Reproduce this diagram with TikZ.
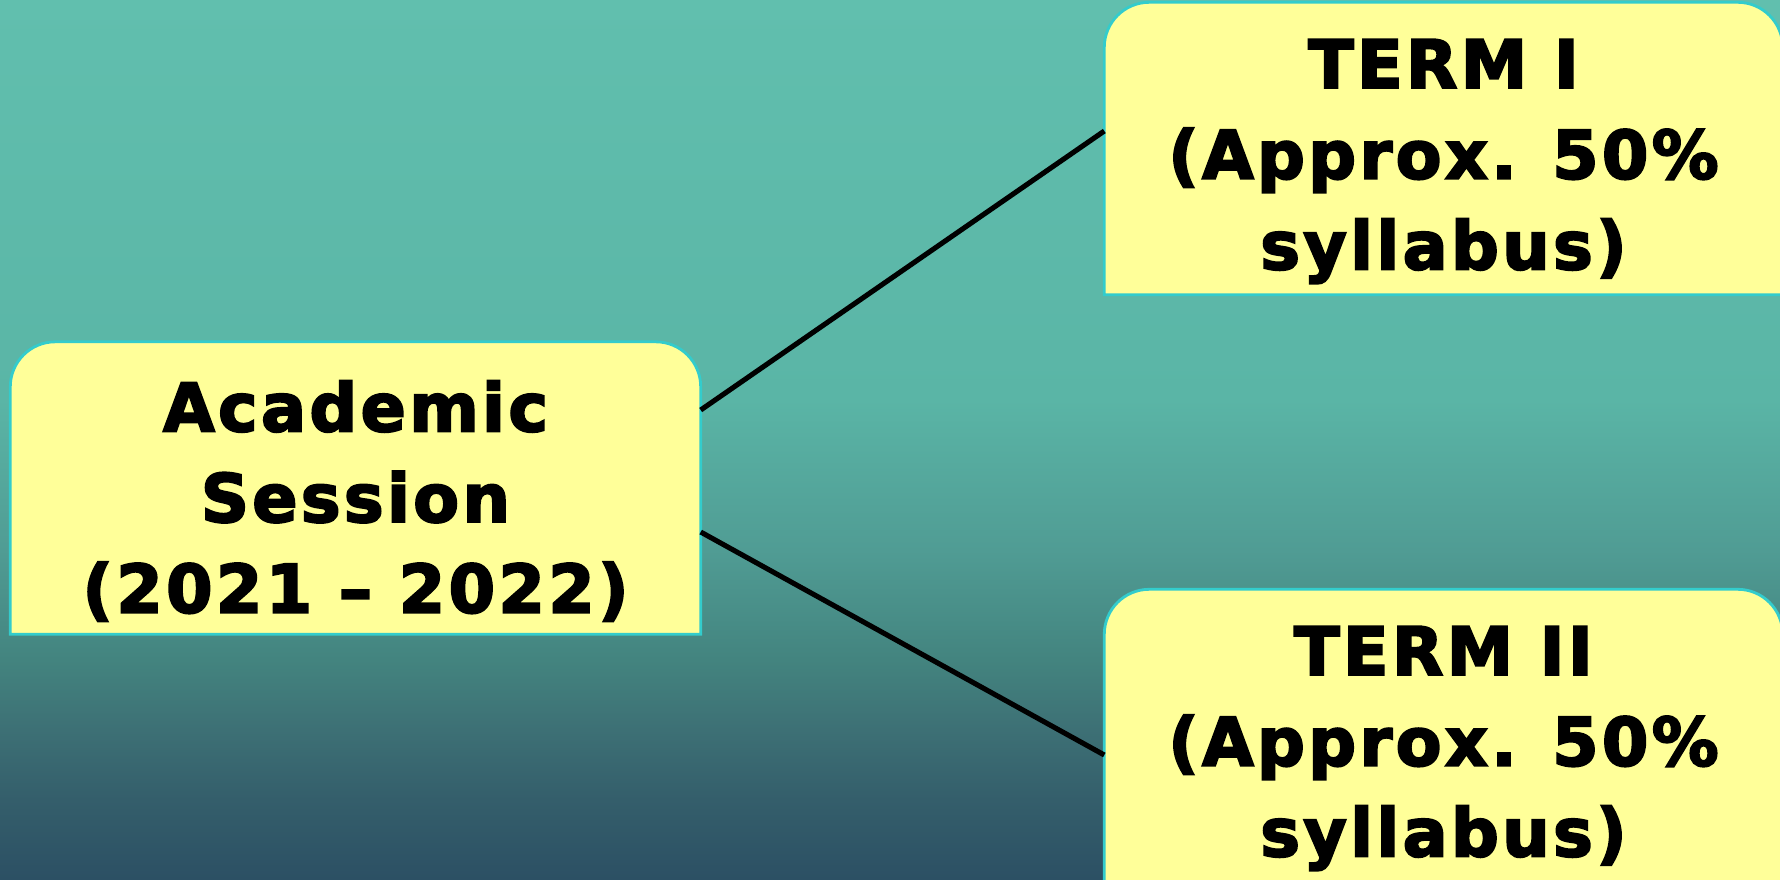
\documentclass[tikz,border=0pt]{standalone}
\usepackage{fontspec}
\setmainfont{DejaVu Sans}[LetterSpace=5, BoldFeatures={FakeBold=3}]
\usepackage{xcolor}
\usepackage{tikz}
\usetikzlibrary{backgrounds}

\definecolor{seatop}{HTML}{61BFAE}
\definecolor{seaA}{HTML}{5AB5A6}
\definecolor{seaB}{HTML}{509C94}
\definecolor{seaC}{HTML}{43847F}
\definecolor{seaD}{HTML}{3D7075}
\definecolor{seaE}{HTML}{345E6B}
\definecolor{seabot}{HTML}{2C5064}
\definecolor{notepaper}{HTML}{FFFF99}
\definecolor{noteedge}{HTML}{33CCCC}

\pgfdeclareverticalshading{sea}{100bp}{color(0bp)=(seabot); color(25bp)=(seabot);
  color(29.5bp)=(seaE); color(33.5bp)=(seaD); color(37.5bp)=(seaC); color(43.7bp)=(seaB);
  color(52.3bp)=(seaA); color(75bp)=(seatop); color(100bp)=(seatop)}

\tikzset{
  note/.style={minimum height=2.91cm, inner sep=0pt, align=center,
    font=\fontsize{19}{25.8}\selectfont\bfseries},
  paper/.style={fill=notepaper, draw=noteedge, line width=0.8pt},
  link/.style={line width=1.45pt, draw=black}
}
\def\lift{1.3mm}

\begin{document}
\begin{tikzpicture}
\useasboundingbox (0,0) rectangle (17.8,8.79);

    \node[note, minimum width=6.89cm] (sess) at (3.555,3.78) {Academic\\Session\\(2021 -- 2022)};
    \node[note, minimum width=6.77cm] (term1) at (14.435,7.175) {TERM I\\(Approx. 50\%\\syllabus)};
    \node[note, minimum width=6.77cm] (term2) at (14.435,1.305) {TERM II\\(Approx. 50\%\\syllabus)};

    % backdrop and the note shapes
    \begin{scope}[on background layer]
    \shade[shading=sea] (0,0) rectangle (17.8,8.79);
    \foreach \n in {sess,term1,term2}
      \filldraw[paper] ([yshift=\lift]\n.south west) -- ([yshift=\lift-4.5mm]\n.north west)
        arc[start angle=180, end angle=90, radius=4.5mm] -- ([xshift=-4.5mm,yshift=\lift]\n.north east)
        arc[start angle=90, end angle=0, radius=4.5mm] -- ([yshift=\lift]\n.south east) -- cycle;
    \end{scope}

    % draw the links
    \draw[link] ([yshift=9.1mm]sess.east) -- ([yshift=3.05mm]term1.west);
    \draw[link] ([yshift=-3.1mm]sess.east) -- ([yshift=-0.65mm]term2.west);

\end{tikzpicture}
\end{document}
